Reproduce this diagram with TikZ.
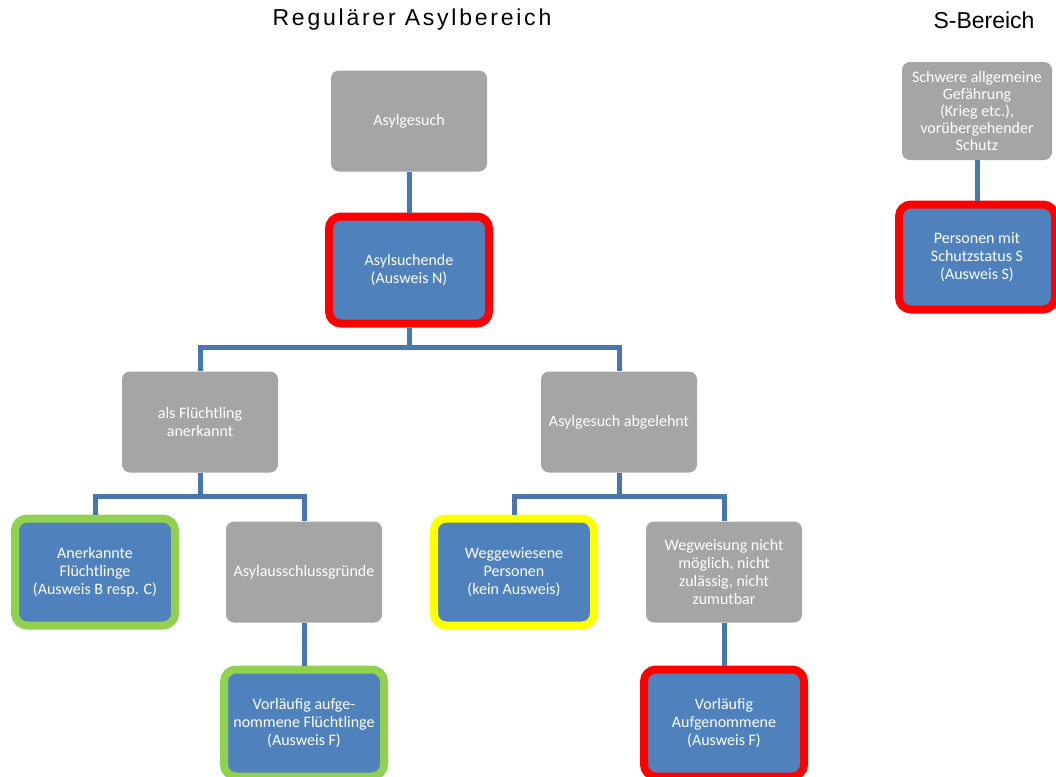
\documentclass[tikz,border=0pt]{standalone}
\usepackage{fontspec}
\setmainfont{Carlito}
\newfontfamily\titlefont{Liberation Sans}
\definecolor{boxgray}{HTML}{A5A5A5}
\definecolor{boxblue}{HTML}{4F81BD}
\definecolor{linkblue}{HTML}{4A76B0}
\definecolor{markgreen}{HTML}{92D050}
\definecolor{markred}{HTML}{FF0000}
\definecolor{markyellow}{HTML}{FFFF00}
\begin{document}
\begin{tikzpicture}[
    x=1pt,y=-1pt,
    grey/.style={fill=boxgray,rounded corners=8pt,minimum width=156pt,minimum height=101pt,align=center,text=white,font=\fontsize{16}{18}\selectfont},
    status/.style={fill=boxblue,draw=#1,line width=8pt,rounded corners=12pt,minimum width=160pt,minimum height=107pt,align=center,text=white,font=\fontsize{16}{18}\selectfont},
    title/.style={font=\titlefont\fontsize{23}{27}\selectfont},
    link/.style={draw=linkblue,line width=5pt}
]
\useasboundingbox (0,0) rectangle (1056,776);

% Titles
\node[title] (regtitle) at (412,20) {\addfontfeatures{LetterSpace=12}Regulärer Asylbereich};
\node[title] (stitle) at (984,20) {S-Bereich};

% Regular asylum area
\node[grey] (gesuch) at (409,121) {Asylgesuch};
\node[status=markred] (sucht) at (409,270) {Asylsuchende\\(Ausweis N)};
\node[grey] (fluecht) at (200,422) {als Flüchtling\\anerkannt};
\node[grey] (abgel) at (619,422) {Asylgesuch abgelehnt};

\node[status=markgreen] (anerk) at (95,572) {Anerkannte\\Flüchtlinge\\(Ausweis B resp. C)};
\node[grey] (ausschl) at (304,572) {Asylausschlussgründe};
\node[status=markgreen] (vorlF) at (304,723) {Vorläufig aufge-\\nommene Flüchtlinge\\(Ausweis F)};

\node[status=markyellow] (weggew) at (514,572) {Weggewiesene\\Personen\\(kein Ausweis)};
\node[grey] (wegweis) at (724,572) {Wegweisung nicht\\möglich, nicht\\zulässig, nicht\\zumutbar};
\node[status=markred] (vorlA) at (724,723) {Vorläufig\\Aufgenommene\\(Ausweis F)};

% S area
\node[grey,minimum width=150pt,minimum height=98pt,font=\fontsize{16}{17}\selectfont] (schwer) at (977,111) {Schwere allgemeine\\Gefährung\\(Krieg etc.),\\vorübergehender\\Schutz};
\node[status=markred,minimum width=156pt,minimum height=105pt] (schutzS) at (977,257) {Personen mit\\Schutzstatus S\\(Ausweis S)};

% Connectors
\draw[link] (gesuch.south) -- (sucht.north);
\draw[link] (sucht.south) -- ++(0,20) -| (fluecht.north);
\draw[link] (sucht.south) -- ++(0,20) -| (abgel.north);
\draw[link] (fluecht.south) -- ++(0,24) -| (anerk.north);
\draw[link] (fluecht.south) -- ++(0,24) -| (ausschl.north);
\draw[link] (ausschl.south) -- (vorlF.north);
\draw[link] (abgel.south) -- ++(0,24) -| (weggew.north);
\draw[link] (abgel.south) -- ++(0,24) -| (wegweis.north);
\draw[link] (wegweis.south) -- (vorlA.north);
\draw[link] (schwer.south) -- (schutzS.north);
\end{tikzpicture}
\end{document}
